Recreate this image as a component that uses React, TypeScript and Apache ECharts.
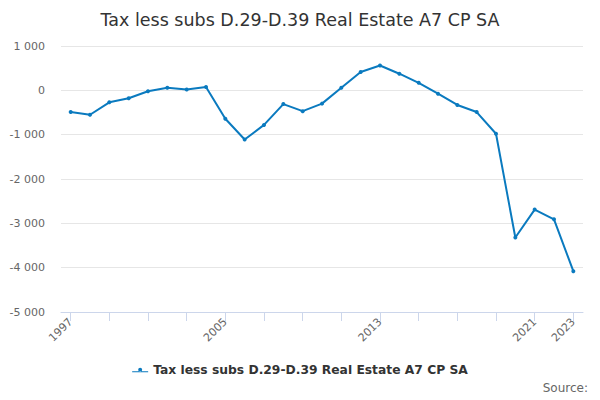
import React, { useEffect, useRef } from "react";
import * as echarts from "echarts";

const years = [
  "1997", "1998", "1999", "2000", "2001", "2002", "2003", "2004", "2005",
  "2006", "2007", "2008", "2009", "2010", "2011", "2012", "2013", "2014",
  "2015", "2016", "2017", "2018", "2019", "2020", "2021", "2022", "2023",
];
const values = [
  -490, -550, -270, -180, -20, 60, 20, 75, -640,
  -1110, -780, -310, -470, -300, 60, 415, 560, 375,
  170, -75, -330, -490, -980, -3320, -2690, -2910, -4080,
];
const seriesName = "Tax less subs D.29-D.39 Real Estate A7 CP SA";
const titleText = "Tax less subs D.29-D.39 Real Estate A7 CP SA";
const sourceText = "Source:";

const fmt = (v: number) => {
  const s = Math.abs(v).toString().replace(/\B(?=(\d{3})+(?!\d))/g, " ");
  return (v < 0 ? "-" : "") + s;
};

export default function App() {
  const ref = useRef<HTMLDivElement>(null);
  useEffect(() => {
    if (!ref.current) return;
    const chart = echarts.init(ref.current, null, { renderer: "svg" });
    const font = "'DejaVu Sans', sans-serif";
    const lastIdx = years.length - 1;
    chart.setOption({
      animation: false,
      textStyle: { fontFamily: font },
      title: {
        text: titleText,
        left: "center",
        top: 6,
        textStyle: { fontSize: 17.5, fontWeight: "normal", color: "#333333", fontFamily: font },
      },
      legend: {
        bottom: 19,
        left: "center",
        itemWidth: 16,
        itemHeight: 8,
        itemGap: 5,
        textStyle: { fontSize: 12.3, fontWeight: "bold", color: "#333333", fontFamily: font },
        data: [{ name: seriesName, icon: "path://M0,3.5L16,3.5L16,4.5L0,4.5Z M6,2 a2,2 0 1,0 4,0 a2,2 0 1,0 -4,0" }],
      },
      graphic: [
        {
          type: "text",
          right: 12,
          bottom: 6,
          style: { text: sourceText, fontSize: 12, fill: "#666666", fontFamily: font },
        },
      ],
      grid: { left: 61, right: 17, top: 46, bottom: 88, containLabel: false },
      xAxis: {
        type: "category",
        data: years,
        boundaryGap: true,
        axisLine: { show: true, onZero: false, lineStyle: { color: "#ccd6eb" } },
        axisTick: {
          show: true,
          alignWithLabel: true,
          length: 9,
          lineStyle: { color: "#ccd6eb" },
          interval: 1,
        },
        axisLabel: {
          rotate: 45,
          color: "#666666",
          fontSize: 11,
          margin: 8,
          interval: (i: number) => i % 8 === 0 || i === lastIdx,
        },
        splitLine: { show: false },
      },
      yAxis: {
        type: "value",
        min: -5000,
        max: 1000,
        interval: 1000,
        axisLine: { show: false },
        axisTick: { show: false },
        axisLabel: { color: "#666666", fontSize: 11, margin: 16, formatter: fmt },
        splitLine: { lineStyle: { color: "#e6e6e6" } },
      },
      series: [
        {
          name: seriesName,
          type: "line",
          data: values,
          symbol: "circle",
          symbolSize: 4,
          itemStyle: { color: "#0a7abf" },
          lineStyle: { width: 2, color: "#0a7abf" },
        },
      ],
    });
    return () => chart.dispose();
  }, []);
  return <div ref={ref} style={{ width: 600, height: 400, position: "absolute", left: 0, top: 0 }} />;
}
